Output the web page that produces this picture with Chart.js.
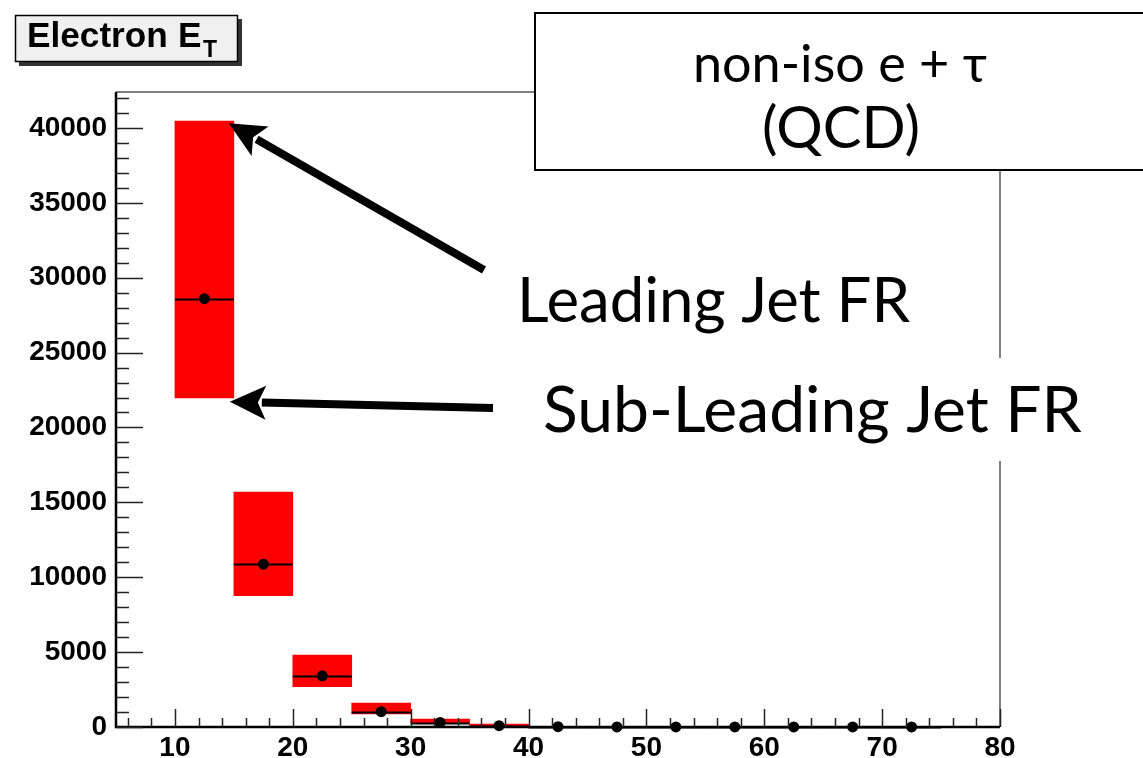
<!DOCTYPE html>
<html>
<head>
<meta charset="utf-8">
<script src="https://cdn.jsdelivr.net/npm/chart.js@4/dist/chart.umd.min.js"></script>
<style>
  html, body { margin: 0; padding: 0; background: #fff; }
  #wrap { width: 1143px; height: 758px; }
</style>
</head>
<body>
<div id="wrap"><canvas id="myChart" width="1143" height="758"></canvas></div>
<script>
// bin centres of the electron ET histogram (5 GeV bins)
const binCenters = [12.5, 17.5, 22.5, 27.5, 32.5, 37.5, 42.5, 47.5, 52.5, 57.5, 62.5, 67.5, 72.5];
const binHalfWidth = 2.5;
// central value (points)
const central = [28600, 10870, 3420, 1020, 300, 90, 25, 8, 4, 3, 2, 1, 1];
// fake-rate band: sub-leading jet FR (low edge) and leading jet FR (high edge)
const bandLow = [21980, 8770, 2700, 880, 270, 70, 15];
const bandHigh = [40450, 15690, 4810, 1600, 530, 200, 50];

const xTickLabels = [10, 20, 30, 40, 50, 60, 70, 80];
const yTickLabels = [0, 5000, 10000, 15000, 20000, 25000, 30000, 35000, 40000];

const tickFont = { family: 'Liberation Sans', size: 28, weight: 'bold' };

function fitFont(ctx, text, targetW, size, family, weight) {
  ctx.font = `${weight} ${size}px ${family}`;
  const w = ctx.measureText(text).width;
  return `${weight} ${(size * targetW / w).toFixed(1)}px ${family}`;
}

function arrow(ctx, x0, y0, x1, y1) {
  const ang = Math.atan2(y1 - y0, x1 - x0);
  const headLen = 36, headHalf = 17;
  const bx = x1 - Math.cos(ang) * (headLen - 4);
  const by = y1 - Math.sin(ang) * (headLen - 4);
  ctx.save();
  ctx.strokeStyle = '#000';
  ctx.fillStyle = '#000';
  ctx.lineWidth = 8;
  ctx.lineCap = 'butt';
  ctx.beginPath();
  ctx.moveTo(x0, y0);
  ctx.lineTo(bx, by);
  ctx.stroke();
  const cx = x1 - Math.cos(ang) * headLen;
  const cy = y1 - Math.sin(ang) * headLen;
  ctx.beginPath();
  ctx.moveTo(x1, y1);
  ctx.lineTo(cx + Math.sin(ang) * headHalf, cy - Math.cos(ang) * headHalf);
  ctx.lineTo(x1 - Math.cos(ang) * (headLen - 8), y1 - Math.sin(ang) * (headLen - 8));
  ctx.lineTo(cx - Math.sin(ang) * headHalf, cy + Math.cos(ang) * headHalf);
  ctx.closePath();
  ctx.fill();
  ctx.restore();
}

const rootStyle = {
  id: 'rootStyle',
  afterDatasetDraw(chart, args) {
    // horizontal bin-width bars on top of the red band, under the markers
    if (args.index !== 1) return;
    const { ctx, scales: { x, y } } = chart;
    ctx.save();
    ctx.strokeStyle = '#000';
    ctx.lineWidth = 2;
    binCenters.forEach((c, i) => {
      const py = Math.round(y.getPixelForValue(central[i])) + 0.5;
      ctx.beginPath();
      ctx.moveTo(x.getPixelForValue(c - binHalfWidth), py);
      ctx.lineTo(x.getPixelForValue(c + binHalfWidth), py);
      ctx.stroke();
    });
    ctx.restore();
  },
  afterDraw(chart) {
    const { ctx, chartArea: a, scales: { x, y } } = chart;
    ctx.save();
    // frame
    ctx.strokeStyle = '#555';
    ctx.lineWidth = 1.5;
    ctx.beginPath();
    ctx.moveTo(a.left, a.top); ctx.lineTo(a.right, a.top); ctx.lineTo(a.right, a.bottom);
    ctx.stroke();
    ctx.strokeStyle = '#000';
    ctx.lineWidth = 2.5;
    ctx.beginPath();
    ctx.moveTo(a.left, a.top); ctx.lineTo(a.left, a.bottom); ctx.lineTo(a.right, a.bottom);
    ctx.stroke();
    // inside ticks
    ctx.lineWidth = 1.5;
    ctx.strokeStyle = '#222';
    for (let v = 6; v <= 80; v += 2) {
      const px = Math.round(x.getPixelForValue(v)) + 0.5;
      const len = v % 10 === 0 ? 18 : 9;
      ctx.beginPath(); ctx.moveTo(px, a.bottom); ctx.lineTo(px, a.bottom - len); ctx.stroke();
    }
    for (let v = 0; v <= 42000; v += 1000) {
      const py = Math.round(y.getPixelForValue(v)) + 0.5;
      const len = v % 5000 === 0 ? 27 : 13;
      ctx.beginPath(); ctx.moveTo(a.left, py); ctx.lineTo(a.left + len, py); ctx.stroke();
    }

    // title box
    ctx.fillStyle = '#333';
    ctx.fillRect(19, 19, 223, 47);
    ctx.fillStyle = '#f0f0f0';
    ctx.fillRect(15, 15, 223, 47);
    ctx.strokeStyle = '#000';
    ctx.lineWidth = 1.5;
    ctx.strokeRect(15.5, 15.5, 222, 46);
    ctx.fillStyle = '#000';
    ctx.textBaseline = 'alphabetic';
    ctx.textAlign = 'left';
    ctx.font = fitFont(ctx, 'Electron', 141, 34, 'Liberation Sans', 'bold');
    ctx.fillText('Electron', 27, 47);
    ctx.fillText('E', 178, 47);
    ctx.font = 'bold 23px Liberation Sans';
    ctx.fillText('T', 203, 57);

    // label box top right
    ctx.fillStyle = '#fff';
    ctx.fillRect(535, 12, 620, 158);
    ctx.strokeStyle = '#000';
    ctx.lineWidth = 2;
    ctx.strokeRect(535, 13, 620, 157);
    ctx.fillStyle = '#000';
    ctx.textAlign = 'center';
    ctx.font = fitFont(ctx, 'non-iso e + τ', 294, 44, 'Lato', 'normal');
    ctx.fillText('non-iso e + τ', 840, 82);
    ctx.font = fitFont(ctx, '(QCD)', 158, 44, 'Lato', 'normal');
    ctx.fillText('(QCD)', 841, 148);

    // FR labels
    ctx.fillStyle = '#fff';
    ctx.fillRect(522, 358, 621, 103);
    ctx.fillStyle = '#000';
    ctx.textAlign = 'left';
    ctx.font = fitFont(ctx, 'Leading Jet FR', 393, 60, 'Lato', 'normal');
    ctx.fillText('Leading Jet FR', 517, 322);
    ctx.font = fitFont(ctx, 'Sub-Leading Jet FR', 539, 60, 'Lato', 'normal');
    ctx.fillText('Sub-Leading Jet FR', 543, 432);
    ctx.restore();

    // arrows pointing to the top and bottom of the first band
    const tipX = x.getPixelForValue(binCenters[0] + binHalfWidth);
    arrow(ctx, 484, 270, tipX - 5, y.getPixelForValue(bandHigh[0]) + 2);
    arrow(ctx, 493, 408, tipX - 4, y.getPixelForValue(bandLow[0]) + 4);
  }
};

const ctx = document.getElementById('myChart');

new Chart(ctx, {
  type: 'bar',
  data: {
    datasets: [{
      type: 'scatter',
      data: binCenters.map((c, i) => ({ x: c, y: central[i] })),
      backgroundColor: '#000',
      borderColor: '#000',
      pointRadius: 5.5,
      pointBorderWidth: 0,
      clip: false
    }, {
      type: 'bar',
      data: bandLow.map((lo, i) => ({ x: binCenters[i], y: [lo, bandHigh[i]] })),
      backgroundColor: '#ff0000',
      borderWidth: 0,
      borderSkipped: false,
      barPercentage: 1,
      categoryPercentage: 1
    }]
  },
  options: {
    responsive: false,
    animation: false,
    devicePixelRatio: 1,
    layout: { padding: { top: 92, right: 143, left: 0, bottom: 0 } },
    plugins: { legend: { display: false }, tooltip: { enabled: false }, title: { display: false } },
    scales: {
      x: {
        type: 'linear',
        min: 5,
        max: 80,
        offset: false,
        border: { display: false },
        grid: { display: false, drawTicks: false, offset: false },
        afterFit(s) { s.height = 31; },
        afterBuildTicks(s) { s.ticks = xTickLabels.map(v => ({ value: v })); },
        ticks: { autoSkip: false, maxRotation: 0, padding: 4, color: '#000', font: tickFont }
      },
      y: {
        min: 0,
        max: 42400,
        border: { display: false },
        grid: { display: false, drawTicks: false },
        afterFit(s) { s.width = 116; },
        afterBuildTicks(s) { s.ticks = yTickLabels.map(v => ({ value: v })); },
        ticks: { padding: 9, color: '#000', font: tickFont, callback: v => String(v) }
      }
    }
  },
  plugins: [rootStyle]
});
</script>
</body>
</html>
